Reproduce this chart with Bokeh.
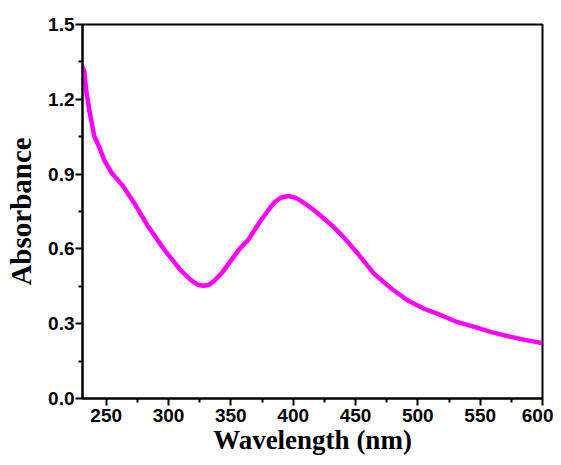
from bokeh.plotting import figure
from bokeh.models import Range1d, FixedTicker
from bokeh.embed import file_html
from bokeh.resources import INLINE

wavelength = [231, 232.5, 234, 236.5, 240.5, 244.5, 248.5, 255, 263, 273, 283, 297, 310,
              318, 324, 328, 332, 337, 343, 350, 357, 364, 374, 380, 385, 390, 396, 400, 404,
              410, 417, 424, 431, 438, 444, 452, 465, 479, 492, 505, 519, 532, 546, 559,
              572, 586, 600]
absorbance = [1.33, 1.31, 1.235, 1.155, 1.05, 1.008, 0.955, 0.90, 0.855, 0.78, 0.695, 0.594, 0.513,
              0.475, 0.455, 0.452, 0.455, 0.473, 0.505, 0.553, 0.60, 0.637, 0.714, 0.755, 0.787, 0.805,
              0.812, 0.808, 0.80, 0.78, 0.754, 0.725, 0.694, 0.66, 0.627, 0.58, 0.50, 0.44, 0.393,
              0.36, 0.333, 0.306, 0.286, 0.266, 0.25, 0.235, 0.222]

x_ticks = [250, 300, 350, 400, 450, 500, 550, 600]
y_ticks = [0.0, 0.3, 0.6, 0.9, 1.2, 1.5]
y_tick_labels = {0.0: "0.0", 0.3: "0.3", 0.6: "0.6", 0.9: "0.9", 1.2: "1.2", 1.5: "1.5"}

p = figure(width=553, height=457, output_backend="svg", toolbar_location=None,
           x_range=Range1d(231, 600), y_range=Range1d(0, 1.5),
           min_border_left=82, min_border_right=11, min_border_top=24, min_border_bottom=59)

p.line(wavelength, absorbance, line_color="#ff00ff", line_width=4.5)

p.grid.visible = False
p.outline_line_color = "black"
p.outline_line_width = 2
p.outline_line_alpha = 1

p.xaxis.ticker = FixedTicker(ticks=x_ticks, minor_ticks=[275, 325, 375, 425, 475, 525, 575])
p.yaxis.ticker = FixedTicker(ticks=y_ticks, minor_ticks=[0.15, 0.45, 0.75, 1.05, 1.35])
p.yaxis.major_label_overrides = y_tick_labels

for ax in (p.xaxis[0], p.yaxis[0]):
    ax.axis_line_width = 2
    ax.axis_line_color = "black"
    ax.major_tick_line_width = 2
    ax.minor_tick_line_width = 2
    ax.major_tick_in = 0
    ax.major_tick_out = 7
    ax.minor_tick_in = 0
    ax.minor_tick_out = 4
    ax.major_label_text_font = "Liberation Sans"
    ax.major_label_text_font_style = "bold"
    ax.major_label_text_font_size = "19px"
    ax.major_label_text_color = "black"
    ax.axis_label_text_font = "Liberation Serif"
    ax.axis_label_text_font_style = "bold"
    ax.axis_label_text_color = "black"

p.xaxis.axis_label = "Wavelength (nm)"
p.yaxis.axis_label = "Absorbance"
p.xaxis.axis_label_text_font_size = "27px"
p.yaxis.axis_label_text_font_size = "29px"
p.xaxis.major_label_standoff = 3
p.yaxis.major_label_standoff = 1
p.xaxis.axis_label_standoff = 0
p.yaxis.axis_label_standoff = 8

open("out.html", "w").write(file_html(p, INLINE))
